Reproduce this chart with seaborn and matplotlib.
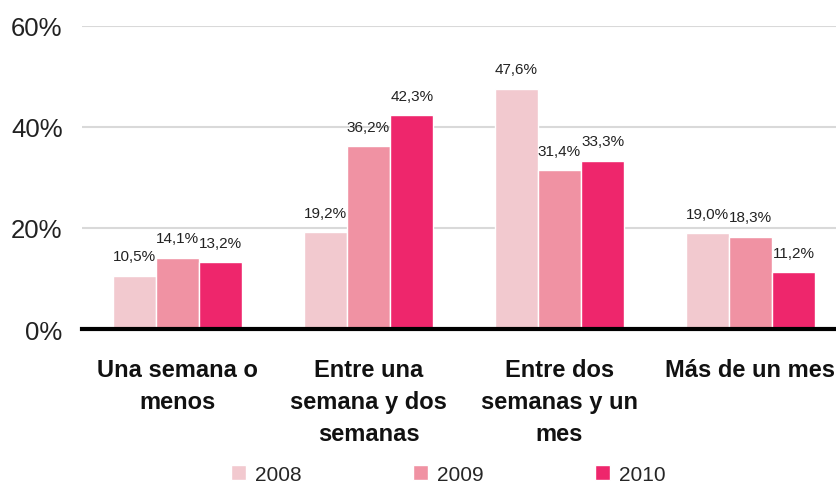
import pandas as pd
import matplotlib
matplotlib.use("Agg")
import matplotlib.pyplot as plt
import seaborn as sns
from matplotlib.ticker import FuncFormatter

categories = ["Una semana o\nmenos", "Entre una\nsemana y dos\nsemanas",
              "Entre dos\nsemanas y un\nmes", "Más de un mes"]
years = ["2008", "2009", "2010"]
v2008 = [10.5, 19.2, 47.6, 19.0]
v2009 = [14.1, 36.2, 31.4, 18.3]
v2010 = [13.2, 42.3, 33.3, 11.2]
colors = ["#F2C9CF", "#F092A3", "#EE266C"]

rows = []
for year, vals in zip(years, [v2008, v2009, v2010]):
    for cat, v in zip(categories, vals):
        rows.append({"cat": cat, "year": year, "value": v})
df = pd.DataFrame(rows)

sns.set_style("white")
plt.rcParams["font.family"] = ["Liberation Sans", "DejaVu Sans"]

fig = plt.figure(figsize=(8.36, 4.85), dpi=100)
ax = fig.add_axes([82 / 836, 1 - 330 / 485, 764 / 836, 303 / 485])

sns.barplot(data=df, x="cat", y="value", hue="year", palette=colors,
            width=0.68, saturation=1, ax=ax, legend=True)

ax.set_ylim(0, 60)
ax.set_xlim(-0.5, 3.5)
ax.set_yticks([0, 20, 40, 60])
ax.yaxis.set_major_formatter(FuncFormatter(lambda v, p: f"{int(v)}%"))
ax.yaxis.grid(True, color="#D9D9D9", linewidth=1.5)
ax.set_axisbelow(True)
for s in ["top", "right", "left"]:
    ax.spines[s].set_visible(False)
ax.spines["bottom"].set_color("black")
ax.spines["bottom"].set_linewidth(3)
ax.tick_params(axis="y", labelsize=18.5, pad=14, length=0, colors="#222222")
ax.tick_params(axis="x", length=0, pad=21)
ax.set_xticks(range(len(categories)))
ax.set_xticklabels(categories, fontsize=17, fontweight="bold", linespacing=1.5,
                   va="top", color="#111111")
ax.set_xlabel("")
ax.set_ylabel("")

for cont in ax.containers:
    labels = [f"{b.get_height():.1f}%".replace(".", ",") for b in cont]
    ax.bar_label(cont, labels=labels, padding=9, fontsize=11,
                 family=["Liberation Sans Narrow", "Liberation Sans", "DejaVu Sans"],
                 color="#222222")

handles, labs = ax.get_legend_handles_labels()
ax.legend(handles, labs, loc="center", bbox_to_anchor=(0.479, -0.48),
          ncol=3, frameon=False, fontsize=15, handlelength=0.75, handleheight=0.75,
          columnspacing=5.35, handletextpad=0.4, borderaxespad=0)

fig.savefig("out.png", dpi=100)
